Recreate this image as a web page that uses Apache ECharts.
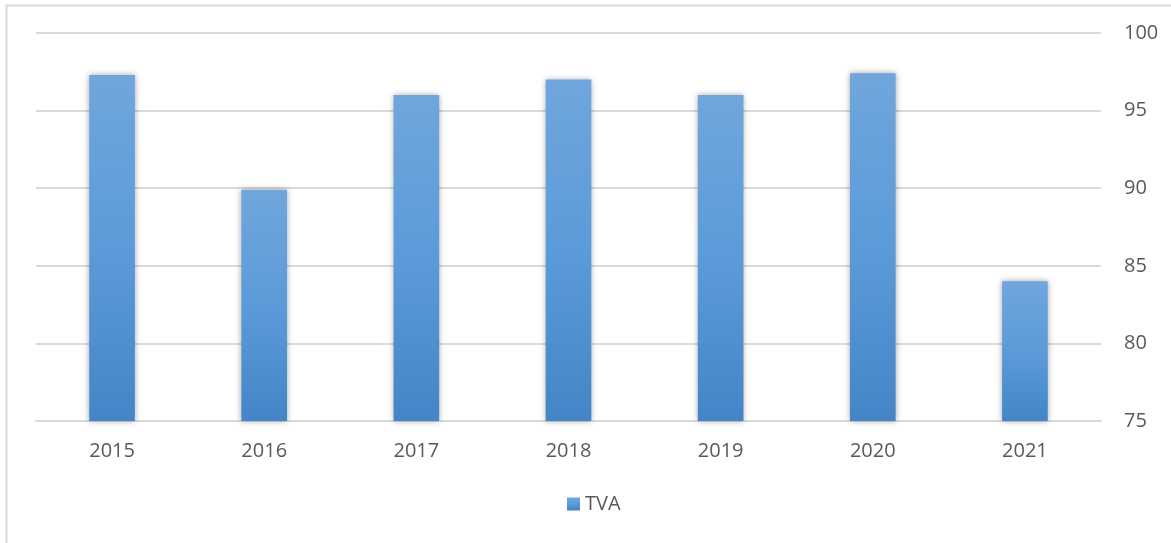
<!DOCTYPE html>
<html><head><meta charset="utf-8">
<script src="https://cdn.jsdelivr.net/npm/echarts@6/dist/echarts.min.js"></script>
<style>html,body{margin:0;padding:0;background:#fff}#c{width:1171px;height:543px}</style>
</head><body><div id="c"></div>
<script>
const categories = ['2015','2016','2017','2018','2019','2020','2021'];
const tvaValues = [97.3, 89.9, 96.0, 97.0, 96.0, 97.4, 84.0];
const seriesName = 'TVA';

const chart = echarts.init(document.getElementById('c'));
const grad = new echarts.graphic.LinearGradient(0,0,0,1,[
  {offset:0,color:'#70a6dd'},{offset:0.5,color:'#5b9bd9'},{offset:1,color:'#4485c7'}]);
chart.setOption({
  animation:false,
  graphic:[{type:'rect',shape:{x:6.5,y:5.5,width:1200,height:600},style:{fill:'none',stroke:'#d9d9d9',lineWidth:2},silent:true}],
  grid:{left:36,right:70,top:33,bottom:122},
  legend:{bottom:24,left:562,itemWidth:13,itemHeight:13,icon:'rect',
    textStyle:{fontFamily:'Open Sans',fontSize:20,color:'#595959'},itemGap:6,
    data:[{name:seriesName,itemStyle:{color:grad}}]},
  xAxis:{type:'category',data:categories,
    axisLine:{lineStyle:{color:'#d9d9d9',width:2}},axisTick:{show:false},
    axisLabel:{fontFamily:'Open Sans',fontSize:20,color:'#595959',margin:20}},
  yAxis:{type:'value',position:'right',min:75,max:100,interval:5,
    axisLine:{show:false},axisTick:{show:false},
    splitLine:{lineStyle:{color:'#d9d9d9',width:2}},
    axisLabel:{fontFamily:'Open Sans',fontSize:20,color:'#595959',margin:23}},
  series:[{name:seriesName,type:'bar',data:tvaValues,barWidth:'30%',
    itemStyle:{color:grad,shadowBlur:6,shadowColor:'rgba(0,0,0,0.35)'}}]
});
</script></body></html>
